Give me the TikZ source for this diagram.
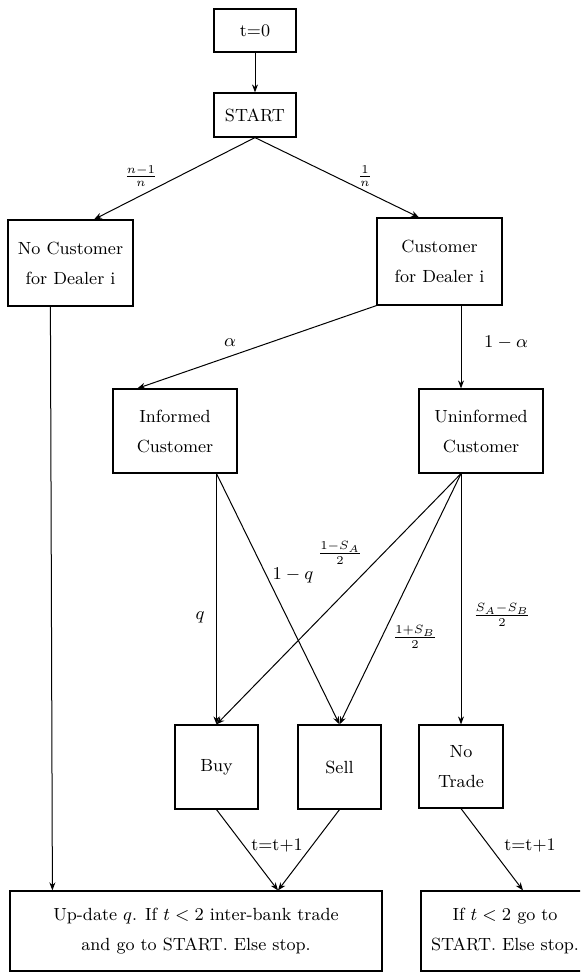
\documentclass[tikz,border=0pt]{standalone}
\usetikzlibrary{arrows.meta,calc}
\begin{document}
\begin{tikzpicture}[x=0.5pt,y=-0.5pt,
  box/.style={draw, line width=0.6pt, align=center, inner sep=0pt, font=\fontsize{8.8}{15}\selectfont},
  arr/.style={line width=0.5pt, -{Stealth[length=4pt,width=3pt]}},
  ln/.style={line width=0.5pt},
  lbl/.style={font=\fontsize{8.8}{10}\selectfont, inner sep=0pt}]
\useasboundingbox (0,0) rectangle (580,972);
\clip (0,0) rectangle (580,972);
% boxes
\node[box, minimum width=41pt, minimum height=21.5pt] (t0) at (255,30.5) {t=0};
\node[box, minimum width=41pt, minimum height=22pt] (start) at (255,115) {START};
\node[box, minimum width=62.5pt, minimum height=43pt] (nocust) at (70.5,263) {No Customer\\for Dealer i};
\node[box, minimum width=62.5pt, minimum height=43.5pt] (cust) at (439.5,261.5) {Customer\\for Dealer i};
\node[box, minimum width=62pt, minimum height=42pt] (inf) at (175,431) {Informed\\Customer};
\node[box, minimum width=62pt, minimum height=42pt] (uninf) at (481,431) {Uninformed\\Customer};
\node[box, minimum width=41.5pt, minimum height=42pt] (buy) at (216.5,767) {Buy};
\node[box, minimum width=41.5pt, minimum height=42pt] (sell) at (339.5,767) {Sell};
\node[box, minimum width=42pt, minimum height=41.5pt] (notrade) at (461,766.5) {No\\Trade};
\node[box, minimum width=186pt, minimum height=40pt] (update) at (196,931) {Up-date $q$. If $t<2$ inter-bank trade\\and go to START. Else stop.};
\node[box, minimum width=84pt, minimum height=40pt] (ifbox) at (505,931) {If $t<2$ go to\\START. Else stop.};
% connectors
\draw[arr] (t0) -- (start);
\draw[arr] (start.south) -- ($(nocust.north)+(23.5,0)$);
\draw[arr] (start.south) -- ($(cust.north)+(-20.5,0)$);
\draw[arr] (cust.south west) -- ($(inf.north west)+(25,0)$);
\draw[arr] (cust.south -| notrade.north) -- (uninf.north -| notrade.north);
\draw[arr] ($(nocust.south west)+(43,0)$) -- ($(update.north west)+(43,0)$);
\draw[arr] (inf.south -| buy.north) -- (buy.north);
\draw[arr] (inf.south -| buy.north) -- (sell.north);
\draw[arr] (uninf.south -| notrade.north) -- (buy.north);
\draw[arr] (uninf.south -| notrade.north) -- (sell.north);
\draw[arr] (uninf.south -| notrade.north) -- (notrade.north);
\draw[arr] (buy.south) -- ($(update.north)+(82,0)$);
\draw[arr] (sell.south) -- ($(update.north)+(82,0)$);
\draw[arr] (notrade.south) -- ($(ifbox.north)+(18,0)$);
% labels
\node[lbl] (l1) at (141,176) {$\frac{n-1}{n}$};
\node[lbl] (l2) at (365,176) {$\frac{1}{n}$};
\node[lbl] (l3) at (230,343) {$\alpha$};
\node[lbl] (l4) at (506,343) {$1-\alpha$};
\node[lbl] (l5) at (200,617) {$q$};
\node[lbl] (l6) at (293,575) {$1-q$};
\node[lbl] (l7) at (340,553) {$\frac{1-S_A}{2}$};
\node[lbl] (l8) at (415,637) {$\frac{1+S_B}{2}$};
\node[lbl] (l9) at (502,615) {$\frac{S_A-S_B}{2}$};
\node[lbl] (l10) at (277,845) {t=t+1};
\node[lbl] (l11) at (530,845) {t=t+1};
\end{tikzpicture}
\end{document}
